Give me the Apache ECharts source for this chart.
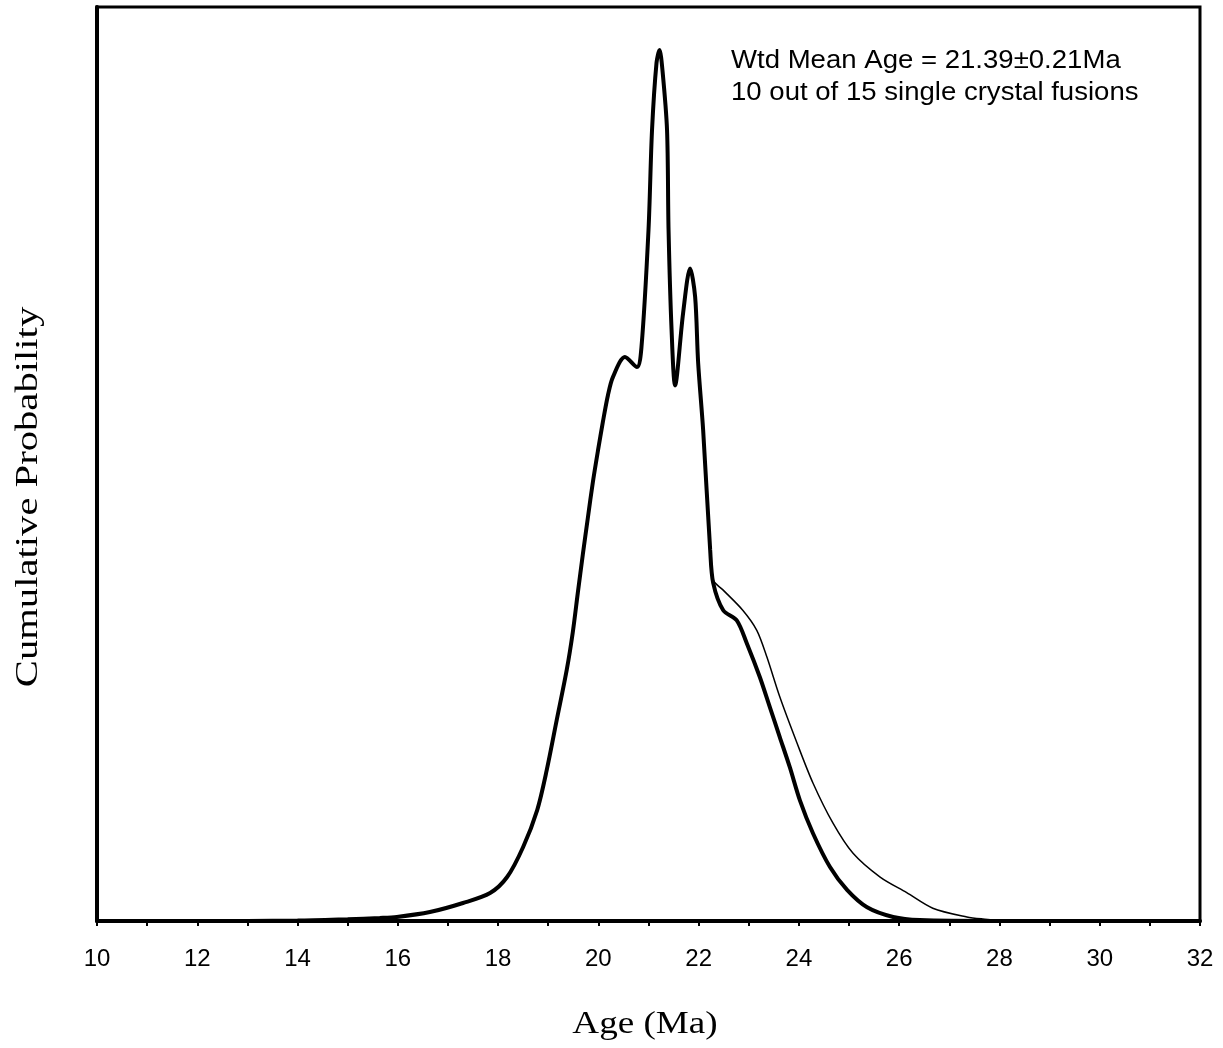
<!DOCTYPE html>
<html>
<head>
<meta charset="utf-8">
<script src="https://cdn.jsdelivr.net/npm/echarts@6/dist/echarts.min.js"></script>
<style>html,body{margin:0;padding:0;background:#fff}#c{width:1223px;height:1048px}</style>
</head>
<body>
<div id="c"></div>
<script>
// Main (thick) probability curve
const thickAges = [10, 12, 14, 15, 15.64, 15.98, 16.64, 17.3, 17.84, 18.18, 18.5, 18.78, 18.97, 19.17, 19.37, 19.49, 19.59, 19.69, 19.79, 19.89, 19.99, 20.09, 20.19, 20.29, 20.53, 20.77, 20.86, 21.0, 21.07, 21.16, 21.22, 21.28, 21.37, 21.4, 21.46, 21.53, 21.69, 21.83, 21.93, 21.99, 22.09, 22.23, 22.29, 22.49, 22.76, 22.96, 23.22, 23.42, 23.62, 23.82, 24.02, 24.28, 24.62, 24.96, 25.36, 25.88, 26.41, 28, 32];
const thickProbs = [0, 0, 0.05, 0.2, 0.33, 0.44, 0.98, 1.97, 3.06, 4.81, 8.1, 12.14, 16.5, 22.0, 27.5, 31.6, 35.9, 40.1, 44.1, 48.0, 51.4, 54.6, 57.5, 59.5, 61.7, 60.6, 62.8, 75.6, 86.5, 93.9, 95.3, 93.0, 86.5, 75.6, 64.7, 58.6, 66.5, 71.4, 68.3, 61.1, 53.7, 40.6, 37.0, 34.0, 32.9, 30.4, 26.7, 23.4, 20.1, 16.8, 13.2, 9.6, 5.9, 3.4, 1.5, 0.44, 0.1, 0, 0];
// Second (thin) curve — coincides with the thick one up to ~22.1 Ma
const thinAges = [22.09, 22.23, 22.29, 22.49, 22.88, 23.16, 23.36, 23.62, 23.96, 24.28, 24.68, 25.08, 25.62, 26.15, 26.67, 27.35, 27.67, 28.2, 32];
const thinProbs = [53.7, 40.6, 37.3, 36.2, 34.0, 31.8, 28.9, 24.5, 19.5, 15.1, 10.7, 7.4, 4.8, 3.1, 1.4, 0.44, 0.22, 0, 0];
const annotationLines = ['Wtd Mean Age = 21.39\u00b10.21Ma', '10 out of 15 single crystal fusions'];

const zip = (a, b) => a.map((v, i) => [v, b[i]]);
const chart = echarts.init(document.getElementById('c'));
chart.setOption({
  animation: false,
  backgroundColor: '#fff',
  grid: { left: 97, right: 23, top: 7, bottom: 127, show: true, borderColor: '#000', borderWidth: 3, backgroundColor: 'transparent' },
  xAxis: {
    type: 'value', min: 10, max: 32, interval: 2,
    axisLine: { show: true, lineStyle: { color: '#000', width: 4 } },
    axisTick: { show: true, length: 5, lineStyle: { color: '#000', width: 2 } },
    minorTick: { show: true, splitNumber: 2, length: 5, lineStyle: { color: '#000', width: 2 } },
    axisLabel: { margin: 26, fontFamily: 'Liberation Sans', fontSize: 24, color: '#000' },
    splitLine: { show: false }
  },
  yAxis: {
    type: 'value', min: 0, max: 100,
    axisLine: { show: true, lineStyle: { color: '#000', width: 4 } },
    axisTick: { show: false }, axisLabel: { show: false }, splitLine: { show: false }
  },
  graphic: [
    { type: 'text', x: 731, y: 48, scaleX: 1.06, style: { text: annotationLines[0], font: '26px "Liberation Sans"', fill: '#000', align: 'left', verticalAlign: 'top' } },
    { type: 'text', x: 731, y: 80, scaleX: 1.06, style: { text: annotationLines[1], font: '26px "Liberation Sans"', fill: '#000', align: 'left', verticalAlign: 'top' } },
    { type: 'text', x: 645, y: 1025, scaleX: 1.16, style: { text: 'Age (Ma)', font: '32px "Liberation Serif"', fill: '#000', align: 'center', verticalAlign: 'middle' } },
    { type: 'text', x: 29, y: 497, rotation: Math.PI / 2, scaleX: 1.27, style: { text: 'Cumulative Probability', font: '32px "Liberation Serif"', fill: '#000', align: 'center', verticalAlign: 'middle' } }
  ],
  series: [
    { type: 'line', data: zip(thinAges, thinProbs), showSymbol: false, smooth: 0.3, lineStyle: { color: '#000', width: 1.5 }, z: 2 },
    { type: 'line', data: zip(thickAges, thickProbs), showSymbol: false, smooth: 0.3, lineStyle: { color: '#000', width: 4 }, z: 3 }
  ]
});
</script>
</body>
</html>
